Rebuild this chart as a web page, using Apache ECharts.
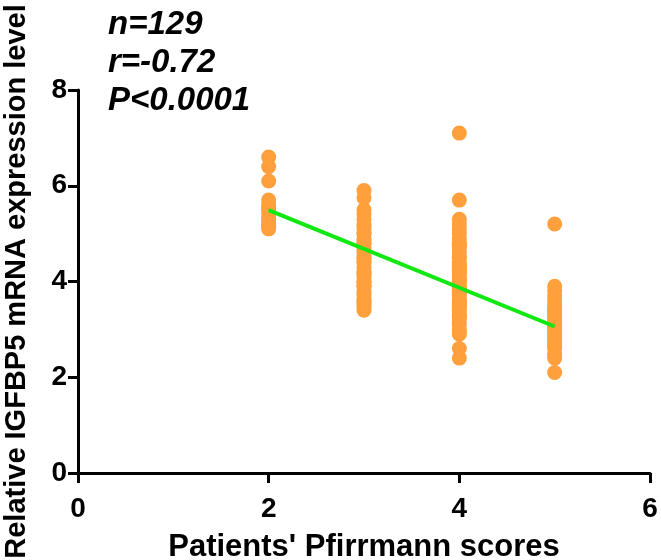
<!DOCTYPE html>
<html>
<head>
<meta charset="utf-8">
<script src="https://cdn.jsdelivr.net/npm/echarts@6/dist/echarts.min.js"></script>
<style>
  html, body { margin: 0; padding: 0; background: #fff; }
  #chart { width: 661px; height: 560px; }
</style>
</head>
<body>
<div id="chart"></div>
<script>
// Pfirrmann grade of each patient group
const grades = [2, 3, 4, 5];

// Relative IGFBP5 mRNA expression per patient, grouped by grade
const grade2Expr = [6.6, 6.4, 6.1, 5.7, 5.6, 5.55, 5.5, 5.45, 5.35, 5.3, 5.25, 5.2, 5.15, 5.1];
const grade3Expr = [5.9, 5.75, 5.5, 5.4, 5.3, 5.2, 5.15, 5.1, 5.0, 5.0, 4.9, 4.85, 4.8, 4.8,
  4.7, 4.65, 4.6, 4.5, 4.5, 4.45, 4.4, 4.4, 4.3, 4.2, 4.2, 4.15, 4.1, 4.0, 4.0, 3.95,
  3.9, 3.9, 3.8, 3.75, 3.7, 3.6, 3.6, 3.55, 3.5, 3.45, 3.4];
const grade4Expr = [7.1, 5.7, 5.3, 5.2, 5.1, 5.0, 4.9, 4.8, 4.8, 4.75, 4.7, 4.6, 4.5, 4.5,
  4.4, 4.35, 4.3, 4.25, 4.2, 4.2, 4.1, 4.05, 4.0, 4.0, 3.9, 3.9, 3.85, 3.8, 3.75, 3.7,
  3.6, 3.6, 3.55, 3.5, 3.45, 3.4, 3.3, 3.3, 3.25, 3.2, 3.1, 3.0, 2.95, 2.9, 2.6, 2.4];
const grade5Expr = [5.2, 3.9, 3.8, 3.7, 3.6, 3.5, 3.45, 3.4, 3.35, 3.3, 3.25, 3.2, 3.15,
  3.1, 3.05, 3.0, 2.95, 2.9, 2.85, 2.8, 2.75, 2.7, 2.65, 2.6, 2.5, 2.45, 2.4, 2.1];

// Linear fit drawn across the observed grade range
const fitLine = [[2, 5.49], [5, 3.06]];

// Statistics shown in the corner
const statLines = ['n=129', 'r=-0.72', 'P<0.0001'];

// Axis ticks
const xTicks = { min: 0, max: 6, interval: 2 };
const yTicks = { min: 0, max: 8, interval: 2 };

const groups = [grade2Expr, grade3Expr, grade4Expr, grade5Expr];
const points = [];
groups.forEach((vals, i) => vals.forEach(v => points.push([grades[i], v])));

const FONT = "'Liberation Sans', Arial, Helvetica, sans-serif";
const axisLineStyle = { color: '#000', width: 3 };

const chart = echarts.init(document.getElementById('chart'), null, { renderer: 'canvas' });
chart.setOption({
  animation: false,
  backgroundColor: '#fff',
  grid: {
    left: 78, right: 11, top: 90, bottom: 87,
    containLabel: false,
    outerBoundsMode: 'none'
  },
  xAxis: {
    type: 'value',
    min: xTicks.min, max: xTicks.max, interval: xTicks.interval,
    name: "Patients' Pfirrmann scores",
    nameLocation: 'middle',
    nameGap: 59,
    nameTextStyle: { fontFamily: FONT, fontWeight: 'bold', fontSize: 31, color: '#000' },
    axisLine: { show: true, onZero: false, lineStyle: axisLineStyle },
    axisTick: { show: true, length: 10, lineStyle: axisLineStyle },
    axisLabel: { margin: 22, fontFamily: FONT, fontWeight: 'bold', fontSize: 28, color: '#000' },
    splitLine: { show: false }
  },
  yAxis: {
    type: 'value',
    min: yTicks.min, max: yTicks.max, interval: yTicks.interval,
    name: 'Relative IGFBP5 mRNA expression level',
    nameLocation: 'middle',
    nameGap: 47,
    nameTextStyle: { fontFamily: FONT, fontWeight: 'bold', fontSize: 29, color: '#000' },
    axisLine: { show: true, onZero: false, lineStyle: axisLineStyle },
    axisTick: { show: true, length: 10, lineStyle: axisLineStyle },
    axisLabel: { margin: 11, fontFamily: FONT, fontWeight: 'bold', fontSize: 28, color: '#000' },
    splitLine: { show: false }
  },
  graphic: [{
    type: 'text',
    left: 108,
    top: 6,
    style: {
      text: statLines.join('\n'),
      fontFamily: FONT,
      fontWeight: 'bold',
      fontStyle: 'italic',
      fontSize: 33,
      lineHeight: 38,
      fill: '#000'
    }
  }],
  series: [
    {
      type: 'scatter',
      data: points,
      symbol: 'circle',
      symbolSize: 15,
      itemStyle: { color: '#FFA03C', opacity: 1 },
      z: 2
    },
    {
      type: 'line',
      data: fitLine,
      symbol: 'none',
      lineStyle: { color: '#11E811', width: 4 },
      z: 3
    }
  ]
});
</script>
</body>
</html>
